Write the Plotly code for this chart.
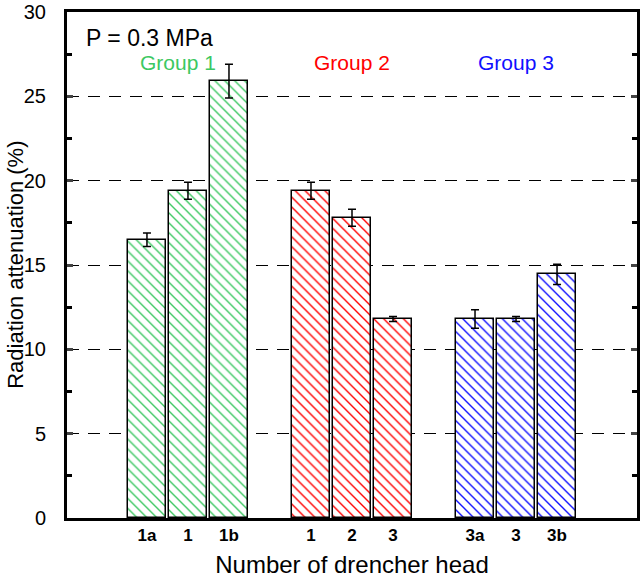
import plotly.graph_objects as go

labels = ["1a", "1", "1b", "1", "2", "3", "3a", "3", "3b"]
positions = [1, 2, 3, 5, 6, 7, 9, 10, 11]
values = [16.5, 19.4, 25.9, 19.4, 17.8, 11.8, 11.8, 11.8, 14.45]
errors = [0.4, 0.5, 1.0, 0.5, 0.5, 0.15, 0.55, 0.15, 0.6]
groups = ["Group 1", "Group 2", "Group 3"]
group_colors = ["#3cc862", "#ff0000", "#1010ff"]
y_ticks = [0, 5, 10, 15, 20, 25, 30]

fig = go.Figure()
for g in range(3):
    sl = slice(3 * g, 3 * g + 3)
    fig.add_trace(go.Bar(
        x=positions[sl], y=values[sl], width=0.93,
        marker=dict(color="white", line=dict(color="black", width=1.5),
                    pattern=dict(shape="\\", fgcolor=group_colors[g], bgcolor="white",
                                 size=7, solidity=0.2, fgopacity=1)),
        error_y=dict(type="data", array=errors[sl], color="black", thickness=1.5, width=4),
        showlegend=False,
    ))

font = "Arial, Liberation Sans, sans-serif"
for g in range(3):
    cx = sum(positions[3 * g:3 * g + 3]) / 3
    fig.add_annotation(x=cx - (0.25 if g == 0 else 0), y=27.0, text=groups[g], showarrow=False,
                       font=dict(family=font, size=21, color=group_colors[g]))
fig.add_annotation(xref="paper", yref="paper", x=0.03, y=0.948, xanchor="left", yanchor="middle",
                   text="P = 0.3 MPa", showarrow=False, font=dict(family=font, size=23, color="black"))
fig.add_annotation(xref="paper", yref="paper", x=-0.117, y=0.5, xanchor="left", yanchor="middle",
                   textangle=-90, text="Radiation attenuation (%)", showarrow=False,
                   font=dict(family=font, size=22, color="black"))

fig.update_layout(
    width=643, height=580, margin=dict(l=67, r=6, t=12, b=62),
    plot_bgcolor="white", paper_bgcolor="white", bargap=0,
    font=dict(family=font, color="black"),
    xaxis=dict(range=[-0.95, 12.95], tickvals=positions, ticktext=labels, automargin=False,
               tickfont=dict(family=font, size=17, weight="bold"),
               showgrid=False, zeroline=False, showline=True, linecolor="black", linewidth=3,
               mirror=True, ticks="",
               title=dict(text="Number of drencher head", font=dict(size=24), standoff=12)),
    yaxis=dict(range=[0, 30], tickvals=y_ticks, tickfont=dict(size=20), automargin=False,
               ticklabelstandoff=14,
               showgrid=True, gridcolor="black", gridwidth=1, griddash="12px,9px",
               zeroline=False, showline=True, linecolor="black", linewidth=3, mirror="ticks",
               ticks="inside", ticklen=6, tickwidth=3,
               minor=dict(dtick=2.5, ticks="inside", ticklen=5, tickwidth=3, tickcolor="black", showgrid=False)),
)
fig.write_html("out.html", config={"displayModeBar": False},
               post_script="document.body.style.margin='0px';document.body.style.overflow='hidden';")
